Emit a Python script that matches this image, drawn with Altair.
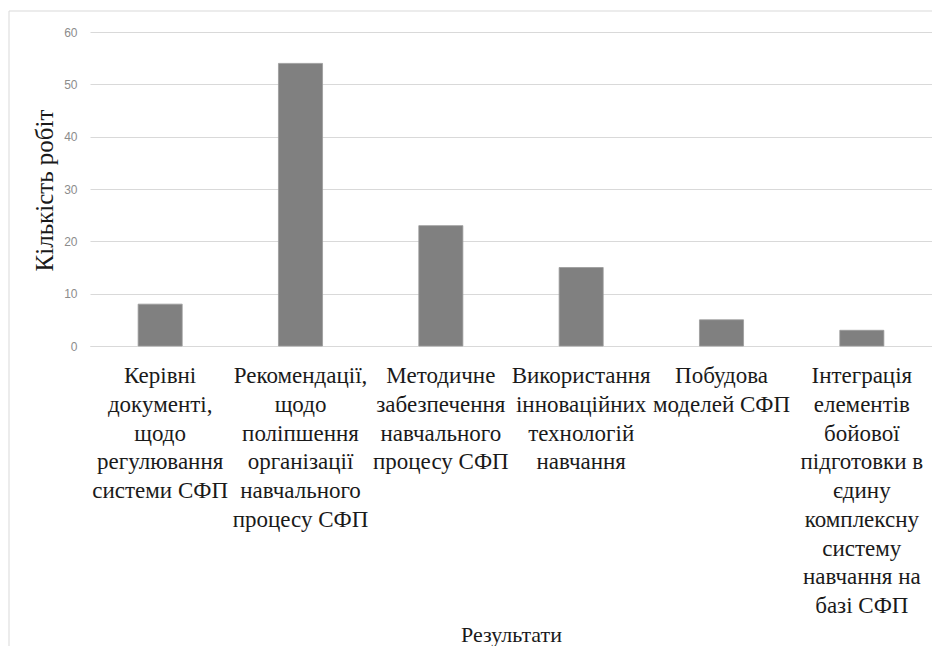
import altair as alt
import pandas as pd

label_lines = [
    ["Керівні", "документі,", "щодо", "регулювання", "системи СФП"],
    ["Рекомендації,", "щодо", "поліпшення", "організації", "навчального", "процесу СФП"],
    ["Методичне", "забезпечення", "навчального", "процесу СФП"],
    ["Використання", "інноваційних", "технологій", "навчання"],
    ["Побудова", "моделей СФП"],
    ["Інтеграція", "елементів", "бойової", "підготовки в", "єдину", "комплексну", "систему", "навчання на", "базі СФП"],
]
values = [8, 54, 23, 15, 5, 3]
y_ticks = [0, 10, 20, 30, 40, 50, 60]

categories = [" ".join(l) for l in label_lines]
df = pd.DataFrame({"cat": categories, "value": values})
lines_df = pd.DataFrame(
    [{"cat": c, "line": i, "text": t}
     for c, ls in zip(categories, label_lines) for i, t in enumerate(ls)]
)

W, H = 842, 314
SERIF = "Liberation Serif"
LINE_H = 28.75

xscale = alt.Scale(paddingInner=0.686, paddingOuter=0.343)

bars = alt.Chart(df).mark_bar(color="#808080", stroke="#9a9a9a", strokeWidth=0.8).encode(
    x=alt.X(
        "cat:N",
        sort=categories,
        scale=xscale,
        axis=alt.Axis(
            title="Результати",
            labels=False,
            ticks=False,
            domainColor="#d9d9d9",
            domainWidth=1,
            titleFont=SERIF,
            titleFontSize=22,
            titleFontWeight="normal",
            titleColor="#1a1a1a",
            titleX=421,
            titleY=288,
            titleBaseline="middle",
            titleAlign="center",
            grid=False,
        ),
    ),
    y=alt.Y(
        "value:Q",
        scale=alt.Scale(domain=[0, 60], nice=False),
        axis=alt.Axis(
            title="Кількість робіт",
            values=y_ticks,
            labelFont="Liberation Sans",
            labelFontSize=12,
            labelColor="#8c8c8c",
            labelPadding=13,
            ticks=False,
            domain=False,
            gridColor="#d9d9d9",
            gridWidth=1,
            titleFont=SERIF,
            titleFontSize=25,
            titleFontWeight="normal",
            titleColor="#1a1a1a",
            titleAngle=-90,
            titleX=-46,
            titleY=158,
            titleBaseline="middle",
            titleAlign="center",
        ),
    ),
)

max_lines = max(len(l) for l in label_lines)
label_layers = []
for i in range(max_lines):
    label_layers.append(
        alt.Chart(lines_df).transform_filter(alt.datum.line == i).mark_text(
            font=SERIF, fontSize=23, fontWeight="normal", baseline="alphabetic",
            align="center", color="#1a1a1a", dy=i * LINE_H,
        ).encode(
            x=alt.X("cat:N", sort=categories, scale=xscale),
            y=alt.value(H + 37),
            text="text:N",
        )
    )

frame = alt.Chart(alt.Data(values=[{"a": 1}])).mark_rect(
    filled=False, stroke="#d9d9d9", strokeWidth=1
).encode(
    x=alt.value(-81), x2=alt.value(W + 200),
    y=alt.value(-21), y2=alt.value(H + 400),
)

chart = alt.layer(frame, bars, *label_layers).properties(
    width=W, height=H,
    autosize=alt.AutoSizeParams(type="none"),
    padding={"left": 82, "top": 24, "right": 0, "bottom": 300},
    background="white",
).configure_view(stroke=None).configure_text(font=SERIF)

chart.save("out.html", embed_options={"renderer": "svg", "actions": False})
